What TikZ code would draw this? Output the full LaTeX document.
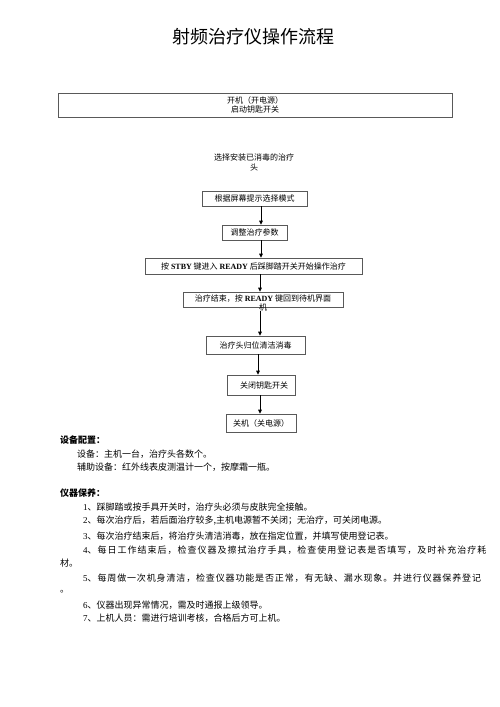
\documentclass[tikz,border=0pt]{standalone}
\usepackage{fontspec}
\setmainfont{Noto Sans CJK SC}
\newfontfamily\lat{Liberation Serif}
\usetikzlibrary{arrows.meta}
\begin{document}
\begin{tikzpicture}[x=1pt,y=-1pt,
  box/.style={draw=black!65, line width=0.7pt, inner sep=0pt, align=center, font=\fontsize{8}{9.5}\selectfont},
  plain/.style={inner sep=0pt, align=center, font=\fontsize{8}{10}\selectfont},
  arr/.style={-{Triangle[length=4pt,width=3.6pt]}, line width=0.9pt},
  body/.style={anchor=west, inner sep=0pt, font=\fontsize{9}{10}\selectfont},
  head/.style={anchor=west, inner sep=0pt, font=\fontsize{9}{10}\selectfont\bfseries},
]
\useasboundingbox[fill=white] (0,0) rectangle (500,707);

\node[inner sep=0pt, font=\fontsize{18}{20}\selectfont] (title) at (253.5,37) {射频治疗仪操作流程};

\node[box, minimum width=394pt, minimum height=24pt] (top) at (255,105) {开机（开电源）\\启动钥匙开关};
\node[plain] (sel) at (254,162) {选择安装已消毒的治疗\\头};

\node[box, minimum width=105pt, minimum height=15pt] (b1) at (254.5,198.5) {根据屏幕提示选择模式};
\node[box, minimum width=65pt, minimum height=15pt] (b2) at (254.5,232.5) {调整治疗参数};
\node[box, minimum width=217pt, minimum height=16pt] (b3) at (253.5,266) {按 {\lat\bfseries STBY} 键进入 {\lat\bfseries READY} 后踩脚踏开关开始操作治疗};
\node[box, minimum width=160pt, minimum height=15pt] (b4) at (263,299.5) {};
\node[plain, anchor=north, font=\fontsize{8}{9.5}\selectfont] (b4t) at ([yshift=-2.5pt]b4.north) {治疗结束，按 {\lat\bfseries READY} 键回到待机界面\\机};
\node[box, minimum width=99pt, minimum height=18pt] (b5) at (255.5,345) {治疗头归位清洁消毒};
\node[box, minimum width=68pt, minimum height=20pt] (b6) at (261,385) {\hspace{6pt}关闭钥匙开关};
\node[box, minimum width=70pt, minimum height=18pt] (b7) at (261,423) {关机（关电源）};

\coordinate (ax) at (261,0);
\coordinate (ay) at (260,0);
\coordinate (az) at (258,0);
\draw[arr] (b1.south -| ax) -- (b2.north -| ax);
\draw[arr] (b2.south -| ax) -- (b3.north -| ax);
\draw[arr] (b3.south -| ay) -- (b4.north -| ay);
\draw[arr] (b4t.south -| ay) -- (b5.north -| ay);
\draw[arr] (b5.south -| az) -- (b6.north -| az);
\draw[arr] (b6.south -| ay) -- (b7.north -| ay);

\node[head] (h1) at (60,440) {设备配置：};
\node[body] (l1) at (77,454) {设备：主机一台，治疗头各数个。};
\node[body] (l2) at (77,467) {辅助设备：红外线表皮测温计一个，按摩霜一瓶。};

\node[head] (h2) at (60,493) {仪器保养：};
\node[body] (m1) at (83,507) {{\lat 1}、踩脚踏或按手具开关时，治疗头必须与皮肤完全接触。};
\node[body] (m2) at (83,521) {{\lat 2}、每次治疗后，若后面治疗较多,主机电源暂不关闭；无治疗，可关闭电源。};
\node[body] (m3) at (83,536) {{\lat 3}、每次治疗结束后，将治疗头清洁消毒，放在指定位置，并填写使用登记表。};
\node[body] (m4) at (83,550) {\addfontfeatures{LetterSpace=11}{\lat 4}、每日工作结束后，检查仪器及擦拭治疗手具，检查使用登记表是否填写，及时补充治疗耗};
\node[body] (m4b) at (60,563) {材。};
\node[body] (m5) at (83,578) {\addfontfeatures{LetterSpace=9.5}{\lat 5}、每周做一次机身清洁，检查仪器功能是否正常，有无缺、漏水现象。并进行仪器保养登记};
\node[body] (m5b) at (60,592) {。};
\node[body] (m6) at (83,605) {{\lat 6}、仪器出现异常情况，需及时通报上级领导。};
\node[body] (m7) at (83,618) {{\lat 7}、上机人员：需进行培训考核，合格后方可上机。};
\end{tikzpicture}
\end{document}
